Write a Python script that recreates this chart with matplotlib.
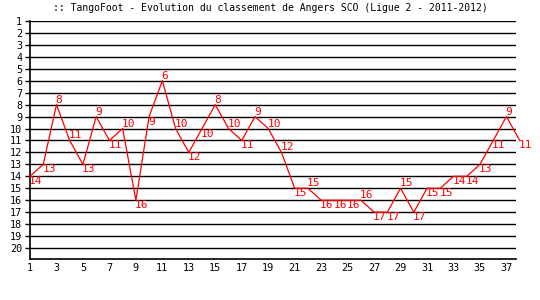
import matplotlib
matplotlib.use("Agg")
import matplotlib.pyplot as plt

plt.rcParams["font.family"] = "DejaVu Sans Mono"

title = ":: TangoFoot - Evolution du classement de Angers SCO (Ligue 2 - 2011-2012)"
rounds = list(range(1, 39))
ranks = [14, 13, 8, 11, 13, 9, 11, 10, 16, 9,
         6, 10, 12, 10, 8, 10, 11, 9, 10, 12,
         15, 15, 16, 16, 16, 16, 17, 17, 15, 17,
         15, 15, 14, 14, 13, 11, 9, 11]
rank_ticks = list(range(1, 21))
round_ticks = list(range(1, 38, 2))

fig = plt.figure(figsize=(5.4, 3.0), dpi=100)
ax = fig.add_axes([30 / 540, 1 - 259 / 300, (515.7 - 30) / 540, (259 - 21) / 300])

for r in rank_ticks:
    ax.axhline(r, color="black", lw=1.0, zorder=1)

ax.plot(rounds, ranks, color="#ff0000", lw=0.9, clip_on=False, zorder=3)

# label goes above the point when the next rank is worse, below otherwise
for i, (x, y) in enumerate(zip(rounds, ranks)):
    above = i + 1 < len(ranks) and ranks[i + 1] > y
    ax.annotate(str(y), (x, y), xytext=(-1, 0), textcoords="offset pixels",
                ha="left", va="bottom" if above else "top",
                color="#ff0000", fontsize=8, annotation_clip=False, zorder=4)

ax.set_xlim(1, 37.7)
ax.set_ylim(20.92, 1)
ax.set_yticks(rank_ticks)
ax.set_xticks(round_ticks)
ax.tick_params(axis="y", length=3.6, width=1, pad=2, labelsize=7.3, color="black")
ax.tick_params(axis="x", length=0, pad=3, labelsize=7.3)

for s in ("top", "right"):
    ax.spines[s].set_visible(False)
for s in ("left", "bottom"):
    ax.spines[s].set_linewidth(1.2)
    ax.spines[s].set_color("black")

fig.text(0.5, 1 - 8 / 300, title, ha="center", va="center", fontsize=7)

fig.savefig("out.png", dpi=100, facecolor="white")
